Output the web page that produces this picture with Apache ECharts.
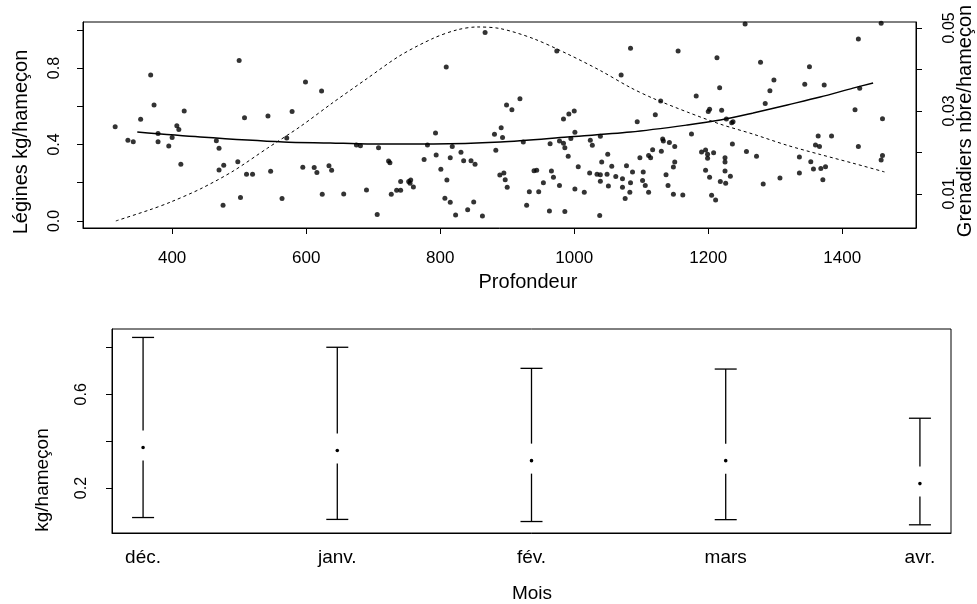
<!DOCTYPE html>
<html>
<head>
<meta charset="utf-8">
<script src="https://cdn.jsdelivr.net/npm/echarts@6/dist/echarts.min.js"></script>
<style>
  html, body { margin: 0; padding: 0; background: #fff; }
  #chart { width: 977px; height: 604px; }
</style>
</head>
<body>
<div id="chart"></div>
<script>
// 散点：深度 / légines kg par hameçon
var depth = [
  315, 334, 342, 353, 368, 373, 379, 379, 395, 400, 407, 410, 413, 418,
  466, 470, 470, 477, 476, 498, 500, 502, 508, 511, 520, 543, 547, 564, 571, 579, 595, 599, 612, 616, 623, 624,
  634, 638, 656, 675, 681, 690, 706, 708, 723, 725, 727, 735, 741, 741, 753, 755, 756, 760, 776, 781, 793, 794, 801,
  809, 818, 815, 810, 807, 815, 823, 831, 835, 841, 846, 850, 852, 863, 867, 881, 883, 889, 891, 893, 895, 897, 899, 900,
  907, 919, 924, 929, 933, 940, 944, 947, 954, 963, 964, 966, 969, 974, 978, 978,
  984, 992, 1000, 1001, 995, 984, 986, 991, 986, 1006, 1001, 1015, 1023, 1024, 1027, 1034, 1039, 1039, 1039, 1041,
  1038, 1049, 1050, 1051, 1056, 1062, 1070, 1072, 1072, 1076, 1078, 1084, 1084, 1083, 1087, 1094, 1098, 1102, 1103,
  1106, 1111, 1111, 1114, 1117, 1121, 1129, 1130, 1132, 1133, 1137, 1140, 1142, 1148, 1148, 1150, 1150, 1155, 1162,
  1175, 1182, 1190, 1196, 1196, 1199, 1199, 1200, 1202, 1202, 1205, 1208, 1211, 1213, 1217, 1218, 1220, 1225, 1225,
  1225, 1226, 1227, 1233, 1235, 1237, 1236, 1255, 1257, 1272, 1278, 1282, 1285, 1292, 1298, 1307, 1336, 1336,
  1344, 1351, 1373, 1364, 1360, 1366, 1384, 1353, 1357, 1368, 1375, 1371, 1419, 1424, 1426, 1424, 1458, 1460, 1458, 1460
];
var kgHook = [
  0.493, 0.422, 0.415, 0.532, 0.763, 0.607, 0.458, 0.415, 0.392, 0.436, 0.498, 0.479, 0.296, 0.575,
  0.420, 0.380, 0.267, 0.291, 0.082, 0.310, 0.840, 0.122, 0.540, 0.244, 0.244, 0.549, 0.260, 0.117, 0.434, 0.572, 0.281, 0.727, 0.279, 0.253, 0.680, 0.139,
  0.289, 0.265, 0.141, 0.397, 0.394, 0.162, 0.033, 0.383, 0.314, 0.305, 0.139, 0.160, 0.160, 0.206, 0.206, 0.197, 0.214, 0.178, 0.322, 0.397, 0.460, 0.345, 0.270,
  0.805, 0.389, 0.331, 0.214, 0.119, 0.098, 0.031, 0.359, 0.315, 0.058, 0.315, 0.099, 0.296, 0.026, 0.986, 0.453, 0.370, 0.241, 0.488, 0.437, 0.251, 0.216, 0.607, 0.176,
  0.582, 0.640, 0.413, 0.082, 0.153, 0.263, 0.265, 0.153, 0.200, 0.052, 0.404, 0.261, 0.228, 0.889, 0.418, 0.185,
  0.533, 0.559, 0.575, 0.464, 0.432, 0.406, 0.383, 0.338, 0.049, 0.284, 0.167, 0.150, 0.251, 0.422, 0.396, 0.244, 0.242, 0.443, 0.207, 0.308,
  0.028, 0.244, 0.349, 0.183, 0.286, 0.232, 0.763, 0.221, 0.176, 0.117, 0.289, 0.200, 0.903, 0.150, 0.256, 0.519, 0.331, 0.211, 0.256,
  0.185, 0.150, 0.342, 0.331, 0.373, 0.556, 0.627, 0.364, 0.429, 0.418, 0.242, 0.186, 0.411, 0.139, 0.282, 0.389, 0.308, 0.889, 0.136,
  0.455, 0.654, 0.361, 0.371, 0.265, 0.328, 0.349, 0.572, 0.228, 0.584, 0.134, 0.357, 0.110, 0.854, 0.697, 0.206, 0.579, 0.331, 0.308,
  0.261, 0.197, 0.533, 0.234, 0.514, 0.519, 0.403, 1.030, 0.363, 0.338, 0.830, 0.193, 0.615, 0.681, 0.737, 0.225, 0.251, 0.335,
  0.715, 0.807, 0.711, 0.444, 0.397, 0.389, 0.444, 0.310, 0.272, 0.274, 0.284, 0.216, 0.582, 0.952, 0.694, 0.389, 1.035, 0.535, 0.319, 0.343
];

// 实线：légines 拟合曲线
var fitDepth = [348, 442, 566, 636, 691, 790, 890, 990, 1084, 1169, 1218, 1267, 1318, 1367, 1416, 1446];
var fitKg = [0.465, 0.439, 0.413, 0.408, 0.403, 0.403, 0.413, 0.439, 0.465, 0.502, 0.528, 0.565, 0.607, 0.648, 0.695, 0.722];

// 虚线：grenadiers 拟合曲线（右轴）
var grenDepth = [316, 367, 397, 442, 491, 542, 591, 640, 691, 740, 790, 825, 855, 890, 939, 990, 1039, 1084, 1118, 1169, 1218, 1267, 1318, 1367, 1416, 1463];
var grenRate = [0.0035, 0.0062, 0.0080, 0.0112, 0.0155, 0.0210, 0.0262, 0.0320, 0.0378, 0.0433, 0.0475, 0.0495, 0.0502, 0.0498, 0.0474, 0.0437, 0.0397, 0.0356, 0.0330, 0.0297, 0.0268, 0.0244, 0.0217, 0.0195, 0.0174, 0.0153];

// 下图：按月份
var months = ['déc.', 'janv.', 'fév.', 'mars', 'avr.'];
var monthLow = [0.074, 0.066, 0.057, 0.065, 0.043];
var monthMean = [0.373, 0.360, 0.317, 0.317, 0.219];
var monthHigh = [0.843, 0.801, 0.711, 0.708, 0.498];

// 刻度
var depthTicks = [400, 600, 800, 1000, 1200, 1400];
var kgTicks = [0, 0.2, 0.4, 0.6, 0.8, 1.0];
var kgLabels = [0, 0.4, 0.8];
var grenTicks = [0.01, 0.02, 0.03, 0.04, 0.05];
var grenLabels = [0.01, 0.03, 0.05];
var monthTicks = [0.2, 0.4, 0.6, 0.8];
var monthLabels = [0.2, 0.6];

var FONT = '"Liberation Sans", Arial, sans-serif';
var black = '#000';

function zip(a, b) {
  return a.map(function (v, i) { return [v, b[i]]; });
}

var myChart = echarts.init(document.getElementById('chart'), null, { renderer: 'canvas' });

// 坐标轴线不跟随 0 值
var axisLine = { show: true, onZero: false, lineStyle: { color: black, width: 1 } };

var option = {
  animation: false,
  backgroundColor: '#fff',
  textStyle: { fontFamily: FONT, color: black },
  grid: [
    { left: 83, top: 22, width: 833, height: 206, show: true, borderColor: black, borderWidth: 1 },
    { left: 112, top: 329, width: 839, height: 204, show: true, borderColor: black, borderWidth: 1 }
  ],
  xAxis: [
    {
      gridIndex: 0, type: 'value', min: 267, max: 1510,
      axisLine: axisLine,
      splitLine: { show: false },
      axisTick: { length: 6, lineStyle: { color: black }, customValues: depthTicks },
      axisLabel: {
        customValues: depthTicks, fontSize: 17, color: black, margin: 22, fontFamily: FONT,
        formatter: function (v) { return String(v); }
      }
    },
    {
      gridIndex: 1, type: 'value', min: 0.84, max: 5.16,
      axisLine: axisLine,
      splitLine: { show: false },
      axisTick: { show: false },
      axisLabel: {
        customValues: [1, 2, 3, 4, 5], fontSize: 19, color: black, margin: 15, fontFamily: FONT,
        formatter: function (v) { return months[Math.round(v) - 1]; }
      }
    }
  ],
  yAxis: [
    {
      gridIndex: 0, type: 'value', position: 'left', min: -0.037, max: 1.041,
      axisLine: axisLine,
      splitLine: { show: false },
      axisTick: { length: 6, lineStyle: { color: black }, customValues: kgTicks },
      axisLabel: {
        customValues: kgLabels, rotate: 90, fontSize: 16, color: black, margin: 20, fontFamily: FONT,
        formatter: function (v) { return v.toFixed(1); }
      }
    },
    {
      gridIndex: 0, type: 'value', position: 'right', min: 0.0018, max: 0.0514,
      axisLine: axisLine,
      splitLine: { show: false },
      axisTick: { length: 6, lineStyle: { color: black }, customValues: grenTicks },
      axisLabel: {
        customValues: grenLabels, rotate: 90, fontSize: 16, color: black, margin: 26, fontFamily: FONT,
        formatter: function (v) { return v.toFixed(2); }
      }
    },
    {
      gridIndex: 1, type: 'value', min: 0.008, max: 0.879,
      axisLine: axisLine,
      splitLine: { show: false },
      axisTick: { length: 6, lineStyle: { color: black }, customValues: monthTicks },
      axisLabel: {
        customValues: monthLabels, rotate: 90, fontSize: 16, color: black, margin: 22, fontFamily: FONT,
        formatter: function (v) { return v.toFixed(1); }
      }
    }
  ],
  graphic: [
    { type: 'text', x: 21, y: 142, rotation: Math.PI / 2,
      style: { text: 'Légines kg/hameçon', font: '20px ' + FONT, fill: black, textAlign: 'center', textVerticalAlign: 'middle' } },
    { type: 'text', x: 965, y: 121, rotation: Math.PI / 2,
      style: { text: 'Grenadiers nbre/hameçon', font: '20px ' + FONT, fill: black, textAlign: 'center', textVerticalAlign: 'middle' } },
    { type: 'text', x: 528, y: 282,
      style: { text: 'Profondeur', font: '20px ' + FONT, fill: black, textAlign: 'center', textVerticalAlign: 'middle' } },
    { type: 'text', x: 43, y: 480, rotation: Math.PI / 2,
      style: { text: 'kg/hameçon', font: '19px ' + FONT, fill: black, textAlign: 'center', textVerticalAlign: 'middle' } },
    { type: 'text', x: 532, y: 594,
      style: { text: 'Mois', font: '19px ' + FONT, fill: black, textAlign: 'center', textVerticalAlign: 'middle' } }
  ],
  series: [
    {
      name: 'Légines', type: 'scatter', xAxisIndex: 0, yAxisIndex: 0,
      data: zip(depth, kgHook),
      symbol: 'circle', symbolSize: 5,
      itemStyle: { color: black }
    },
    {
      name: 'Ajustement légines', type: 'line', xAxisIndex: 0, yAxisIndex: 0,
      data: zip(fitDepth, fitKg), smooth: 0.3, showSymbol: false,
      lineStyle: { color: black, width: 1.5 }
    },
    {
      name: 'Grenadiers', type: 'line', xAxisIndex: 0, yAxisIndex: 1,
      data: zip(grenDepth, grenRate), smooth: 0.3, showSymbol: false,
      lineStyle: { color: black, width: 1, type: [3, 3] }
    },
    {
      name: 'Mois', type: 'custom', xAxisIndex: 1, yAxisIndex: 2,
      data: months.map(function (m, i) { return [i + 1, monthLow[i], monthMean[i], monthHigh[i]]; }),
      encode: { x: 0, y: [1, 2, 3] },
      renderItem: function (params, api) {
        var mid = api.coord([api.value(0), api.value(2)]);
        var lo = api.coord([api.value(0), api.value(1)]);
        var hi = api.coord([api.value(0), api.value(3)]);
        var cap = 11;
        var st = { stroke: black, lineWidth: 1.3 };
        return {
          type: 'group',
          children: [
            { type: 'line', shape: { x1: hi[0], y1: hi[1], x2: mid[0], y2: mid[1] - 17 }, style: st },
            { type: 'line', shape: { x1: mid[0], y1: mid[1] + 13, x2: lo[0], y2: lo[1] }, style: st },
            { type: 'line', shape: { x1: hi[0] - cap, y1: hi[1], x2: hi[0] + cap, y2: hi[1] }, style: st },
            { type: 'line', shape: { x1: lo[0] - cap, y1: lo[1], x2: lo[0] + cap, y2: lo[1] }, style: st },
            { type: 'circle', shape: { cx: mid[0], cy: mid[1], r: 1.8 }, style: { fill: black } }
          ]
        };
      }
    }
  ]
};

myChart.setOption(option);
window.addEventListener('resize', function () {
  myChart.resize();
});
</script>
</body>
</html>
